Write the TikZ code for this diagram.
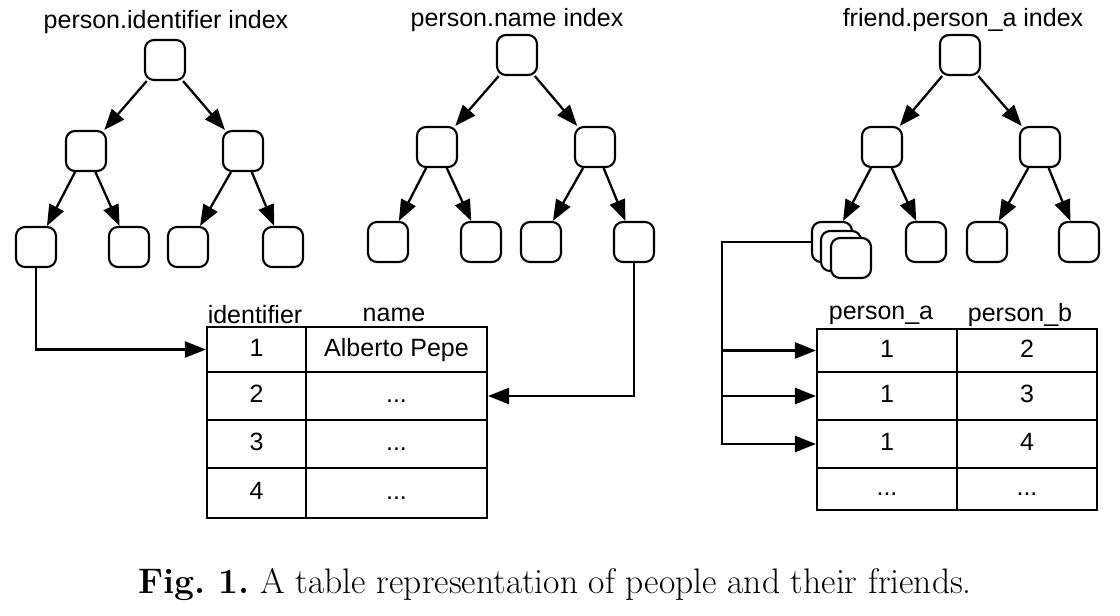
\documentclass[tikz,border=0pt]{standalone}
\usepackage{fontspec}
\newfontfamily\sansf{Liberation Sans}
\usetikzlibrary{arrows.meta}
\begin{document}
\begin{tikzpicture}[x=1pt,y=-1pt,
  tnode/.style={draw,line width=2.1pt,rounded corners=9pt,minimum width=40pt,minimum height=40pt,inner sep=0pt,fill=white},
  arrowln/.style={line width=2.3pt,-{Triangle[length=21pt,width=16pt]}},
  lbl/.style={font=\sansf\fontsize{25}{30}\selectfont,inner sep=0pt},
  cell/.style={draw,line width=2.1pt,inner sep=0pt,font=\sansf\fontsize{25}{30}\selectfont,text height=18pt,text depth=5pt}
]
\useasboundingbox (0,0) rectangle (1120,616);

% ---- tree 1
\node[lbl] (lab1) at (166,22) {person.identifier index};
\node[tnode] (a0) at (165,60) {};
\node[tnode] (a1) at (86,151) {};
\node[tnode] (a2) at (243,151) {};
\node[tnode] (a11) at (36,247) {};
\node[tnode] (a12) at (129,247) {};
\node[tnode] (a21) at (188,247) {};
\node[tnode] (a22) at (283,247) {};
\foreach \p/\c in {a0/a1,a0/a2,a1/a11,a1/a12,a2/a21,a2/a22} \draw[arrowln] (\p) -- (\c);

% ---- tree 2
\node[lbl] (lab2) at (517,20) {person.name index};
\node[tnode] (b0) at (517,55) {};
\node[tnode] (b1) at (437,147) {};
\node[tnode] (b2) at (595,147) {};
\node[tnode] (b11) at (388,242) {};
\node[tnode] (b12) at (481,242) {};
\node[tnode] (b21) at (541,242) {};
\node[tnode] (b22) at (634,242) {};
\foreach \p/\c in {b0/b1,b0/b2,b1/b11,b1/b12,b2/b21,b2/b22} \draw[arrowln] (\p) -- (\c);

% ---- tree 3
\node[lbl] (lab3) at (963,20) {friend.person\_a index};
\node[tnode] (c0) at (960,55) {};
\node[tnode] (c1) at (882,147) {};
\node[tnode] (c2) at (1040,147) {};
\node[tnode] (c11) at (832,242) {};
\node[tnode] (c11b) at (841,251) {};
\node[tnode] (c11c) at (851,258) {};
\node[tnode] (c12) at (926,242) {};
\node[tnode] (c21) at (987,242) {};
\node[tnode] (c22) at (1079,242) {};
\foreach \p/\c in {c0/c1,c0/c2,c1/c11,c1/c12,c2/c21,c2/c22} \draw[arrowln] (\p) -- (\c);

% ---- table 1
\node[lbl] (h11) at (255,315) {identifier};
\node[lbl] (h12) at (394,315) {name};
\node[cell,minimum width=99pt,minimum height=45pt] (t11) at (256.5,349.5) {1};
\node[cell,minimum width=181pt,minimum height=45pt] (t12) at (396.5,349.5) {Alberto Pepe};
\node[cell,minimum width=99pt,minimum height=48pt] (t21) at (256.5,396) {2};
\node[cell,minimum width=181pt,minimum height=48pt] (t22) at (396.5,396) {...};
\node[cell,minimum width=99pt,minimum height=48pt] (t31) at (256.5,444) {3};
\node[cell,minimum width=181pt,minimum height=48pt] (t32) at (396.5,444) {...};
\node[cell,minimum width=99pt,minimum height=50pt] (t41) at (256.5,493) {4};
\node[cell,minimum width=181pt,minimum height=50pt] (t42) at (396.5,493) {...};

% ---- table 2
\node[lbl] (h21) at (881,315) {person\_a};
\node[lbl] (h22) at (1020,315) {person\_b};
\node[cell,minimum width=140pt,minimum height=43pt] (u11) at (887,350.5) {1};
\node[cell,minimum width=140pt,minimum height=43pt] (u12) at (1027,350.5) {2};
\node[cell,minimum width=140pt,minimum height=48pt] (u21) at (887,396) {1};
\node[cell,minimum width=140pt,minimum height=48pt] (u22) at (1027,396) {3};
\node[cell,minimum width=140pt,minimum height=48pt] (u31) at (887,444) {1};
\node[cell,minimum width=140pt,minimum height=48pt] (u32) at (1027,444) {4};
\node[cell,minimum width=140pt,minimum height=42pt] (u41) at (887,489) {...};
\node[cell,minimum width=140pt,minimum height=42pt] (u42) at (1027,489) {...};

% ---- connectors
\draw[arrowln] (a11.south) |- (t11.west);
\draw[arrowln] (b22.south) |- (t22.east);
\coordinate (bus) at (722,242);
\draw[arrowln] (c11.west) -- (bus) |- (u31.west);
\draw[arrowln] (bus |- u11.west) -- (u11.west);
\draw[arrowln] (bus |- u21.west) -- (u21.west);

% ---- caption
\node[inner sep=0pt,font=\fontsize{35.5}{42}\selectfont] (cap) at (555,585) {\frenchspacing\textbf{Fig. 1.} A table representation of people and their friends.};
\end{tikzpicture}
\end{document}
